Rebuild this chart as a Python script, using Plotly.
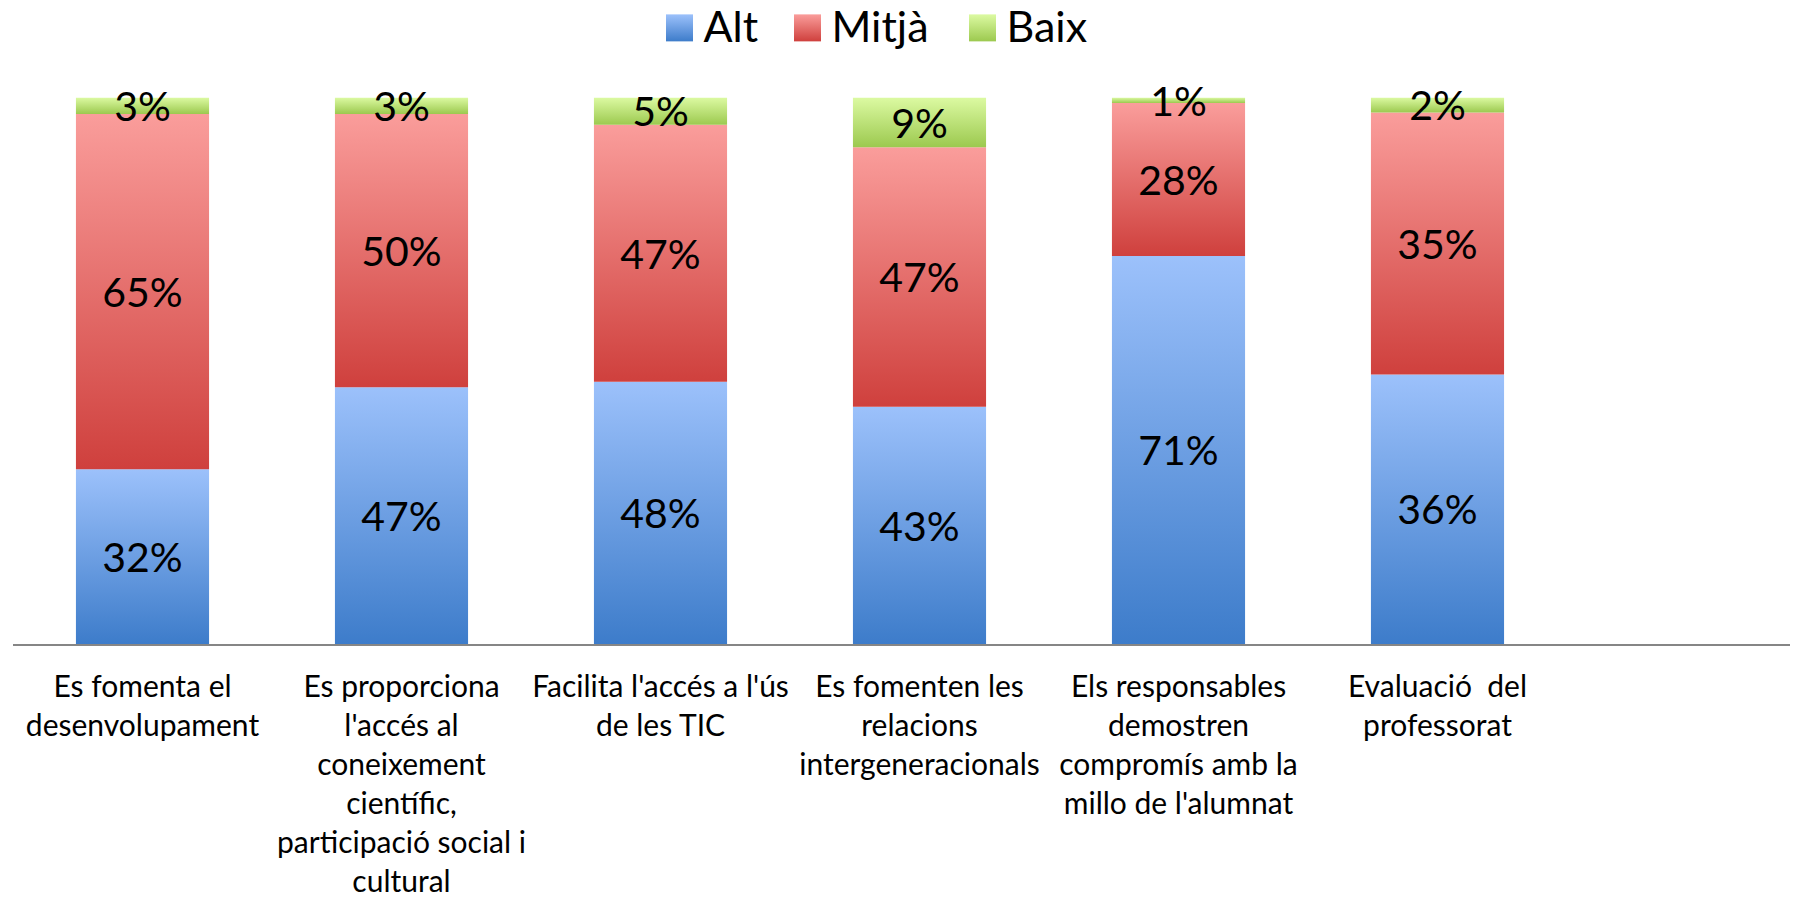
import plotly.graph_objects as go

# ---- data ----
categories = [
    "Es fomenta el<br>desenvolupament",
    "Es proporciona<br>l'accés al<br>coneixement<br>científic,<br>participació social i<br>cultural",
    "Facilita l'accés a l'ús<br>de les TIC",
    "Es fomenten les<br>relacions<br>intergeneracionals",
    "Els responsables<br>demostren<br>compromís amb la<br>millo de l'alumnat",
    "Evaluació  del<br>professorat",
]
series_names = ["Alt", "Mitjà", "Baix"]
alt = [32, 47, 48, 43, 71, 36]
mitja = [65, 50, 47, 47, 28, 35]
baix = [3, 3, 5, 9, 1, 2]

# ---- styles ----
light = ["#9cc1fb", "#fa9d9b", "#dcfaa2"]
dark = ["#3d7cca", "#cf403d", "#9cc94f"]
FONT = "Lato"
half_w = 0.257

W, H = 1793, 898
# plot area in page pixels (page body margin removed via post_script)
P_LEFT, P_RIGHT, P_TOP, P_AXIS = 13, 1790, 98, 647
ML = P_LEFT
MR = W - P_RIGHT
MT = 0
MB = H - P_AXIS
plot_h = H - MT - MB
px_per_unit = (P_AXIS - P_TOP) / 100.0
label_dy = 5 / px_per_unit   # nudge labels down a few pixels

fig = go.Figure()
values = [alt, mitja, baix]

for i in range(len(categories)):
    total = sum(v[i] for v in values)
    base = 0.0
    for s, vals in enumerate(values):
        pct = vals[i] / total * 100.0
        y0, y1 = base, base + pct
        fig.add_trace(go.Scatter(
            x=[i - half_w, i + half_w, i + half_w, i - half_w, i - half_w],
            y=[y0, y0, y1, y1, y0],
            mode="none", fill="toself",
            fillgradient=dict(type="vertical",
                              colorscale=[[0, dark[s]], [1, light[s]]]),
            showlegend=False, hoverinfo="skip",
        ))
        base = y1

# value labels
for i in range(len(categories)):
    total = sum(v[i] for v in values)
    base = 0.0
    xs, ys, ts = [], [], []
    for s, vals in enumerate(values):
        pct = vals[i] / total * 100.0
        xs.append(i)
        ys.append(base + pct / 2 - label_dy)
        ts.append(f"{vals[i]}%")
        base += pct
    fig.add_trace(go.Scatter(
        x=xs, y=ys, text=ts, mode="text",
        textfont=dict(family=FONT, size=41, color="#000000"),
        cliponaxis=False, showlegend=False, hoverinfo="skip",
    ))

# custom legend (helper axes mapped to page pixels)
leg_x = [679.5, 807.5, 982.5]
leg_y = 28
fig.add_trace(go.Scatter(
    x=leg_x, y=[leg_y] * 3, xaxis="x2", yaxis="y2", mode="markers",
    marker=dict(symbol="square", size=27, color=light,
                gradient=dict(type="vertical", color=dark)),
    showlegend=False, hoverinfo="skip", cliponaxis=False,
))
fig.add_trace(go.Scatter(
    x=[x + 24 for x in leg_x], y=[leg_y + 3] * 3, xaxis="x2", yaxis="y2",
    mode="text", text=series_names, textposition="middle right",
    textfont=dict(family=FONT, size=43, color="#000000"),
    showlegend=False, hoverinfo="skip", cliponaxis=False,
))

n_px = P_RIGHT - P_LEFT
cat_px = 259.0
leg_band = 64
fig.update_layout(
    width=W, height=H,
    margin=dict(l=ML, r=MR, t=MT, b=MB),
    paper_bgcolor="white", plot_bgcolor="rgba(0,0,0,0)",
    xaxis=dict(
        range=[-0.5, -0.5 + n_px / cat_px],
        tickmode="array", tickvals=list(range(len(categories))),
        ticktext=categories, showgrid=False, zeroline=False,
        showline=True, linecolor="#868686", linewidth=2,
        ticks="", tickfont=dict(family=FONT, size=30, color="#000000"),
        ticklabelstandoff=15, fixedrange=True,
    ),
    yaxis=dict(
        range=[0, 100], domain=[0, (plot_h - P_TOP) / plot_h],
        visible=False, showgrid=False, fixedrange=True,
    ),
    xaxis2=dict(domain=[0, 1], range=[P_LEFT, P_RIGHT], visible=False,
                anchor="y2", fixedrange=True),
    yaxis2=dict(domain=[(plot_h - leg_band) / plot_h, 1],
                range=[leg_band, 0], visible=False, anchor="x2",
                fixedrange=True),
    showlegend=False,
)

fig.write_html(
    "out.html",
    config={"displayModeBar": False},
    post_script="document.body.style.margin='0px';"
                "document.body.style.overflow='hidden';",
)
